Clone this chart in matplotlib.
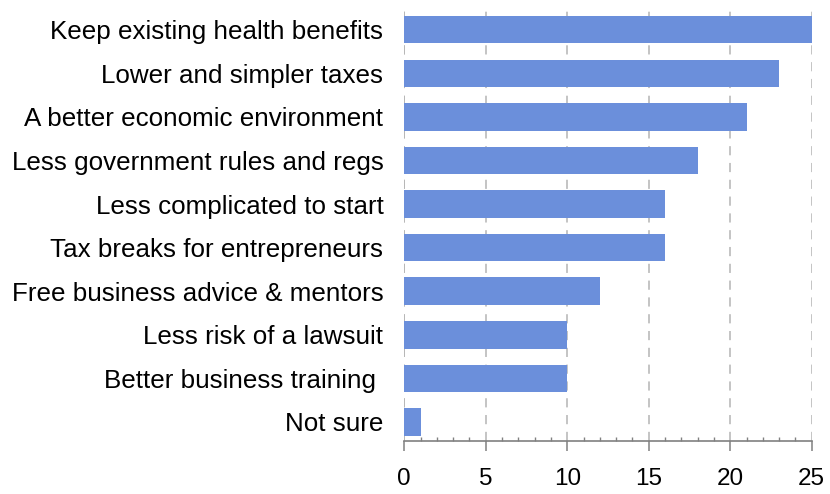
import matplotlib.pyplot as plt
from matplotlib.ticker import MultipleLocator

plt.rcParams['font.family'] = ['Liberation Sans', 'DejaVu Sans']

# Survey answers, top to bottom
categories = [
    'Keep existing health benefits',
    'Lower and simpler taxes',
    'A better economic environment',
    'Less government rules and regs',
    'Less complicated to start',
    'Tax breaks for entrepreneurs',
    'Free business advice & mentors',
    'Less risk of a lawsuit',
    'Better business training ',
    'Not sure',
]
values = [25, 23, 21, 18, 16, 16, 12, 10, 10, 1]

bar_color = '#6b8fdb'
grid_color = '#b4b4b4'
axis_color = '#808080'

fig = plt.figure(figsize=(8.3, 4.94), dpi=100)
ax = fig.add_axes([0.487, 0.107, 0.491, 0.877])

positions = list(range(len(categories)))
ax.barh(positions, values, height=0.63, color=bar_color, zorder=2)

ax.set_xlim(0, 25)
ax.set_ylim(len(categories) - 0.56, -0.5)
ax.set_yticks(positions)
ax.set_yticklabels(categories, fontsize=18.7)
ax.tick_params(axis='y', length=0, pad=15)

ax.xaxis.set_major_locator(MultipleLocator(5))
ax.xaxis.set_minor_locator(MultipleLocator(1))
ax.tick_params(axis='x', which='major', direction='out', length=7.5,
               width=1.1, color=axis_color, labelsize=17.5, pad=12)
ax.tick_params(axis='x', which='minor', direction='in', length=3,
               width=1.0, color=axis_color)

ax.grid(axis='x', which='major', color=grid_color, linestyle=(0, (6, 5)),
        linewidth=1.1, zorder=1)
ax.axvline(0, color=grid_color, linestyle=(0, (6, 5)), linewidth=1.1, zorder=1)

for side in ('left', 'right', 'top'):
    ax.spines[side].set_visible(False)
ax.spines['bottom'].set_color(axis_color)
ax.spines['bottom'].set_linewidth(1.2)

fig.savefig('out.png', dpi=100)
